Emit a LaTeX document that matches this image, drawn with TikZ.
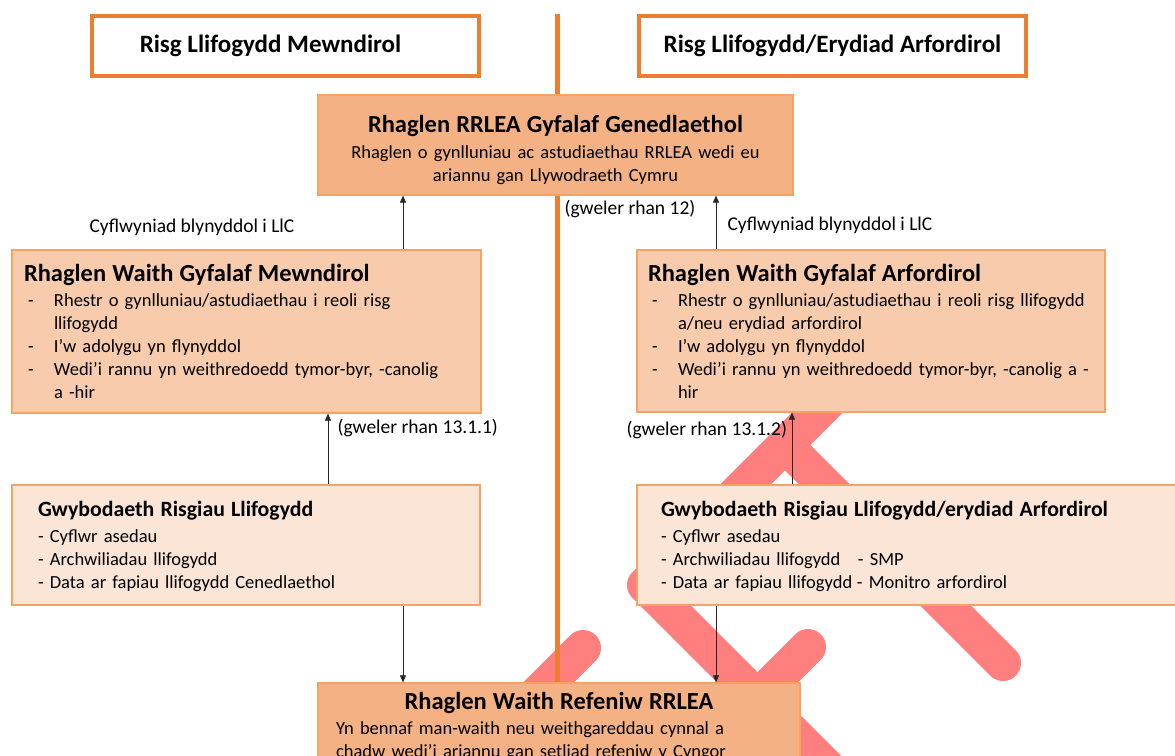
\documentclass[tikz,border=0pt]{standalone}
\usepackage{fontspec}
\setmainfont{Carlito}
\usepackage{tikz}
\usetikzlibrary{arrows.meta}

\definecolor{riskline}{HTML}{ED7D31}
\definecolor{boxedge}{HTML}{F7A262}
\definecolor{peachdark}{HTML}{F4B183}
\definecolor{peachmid}{HTML}{F8CBAD}
\definecolor{peachlight}{HTML}{FBE5D6}
\definecolor{crossmark}{HTML}{FF7F7F}

\newcommand{\bodyfont}{\fontsize{18.5}{23}\selectfont}
\newcommand{\notefont}{\fontsize{19.5}{23}\selectfont}
\newcommand{\headfont}{\fontsize{24.5}{27}\selectfont\bfseries}
\newcommand{\infohead}{\fontsize{21.8}{25}\selectfont\bfseries}
\newcommand{\dashitem}[1]{\mbox{\makebox[30pt][l]{\hspace{4pt}-}#1}}
\newcommand{\dashcont}[1]{\mbox{\hspace*{30pt}#1}}

\begin{document}
\begin{tikzpicture}[x=1pt,y=-1pt,
	topbox/.style={draw=riskline, line width=3.5pt, fill=white, minimum width=387pt, minimum height=60pt, font=\fontsize{25}{28}\selectfont\bfseries},
	bluebox/.style={draw=boxedge, line width=1.2pt, inner ysep=0pt, font=\bodyfont},
	arr/.style={-{Triangle[length=7pt,width=6pt]}, line width=0.6pt, draw=black!85}]
	
	\useasboundingbox (0,0) rectangle (1175,755);
	\clip (0,0) rectangle (1175,755);
	
	% Draw crossed marks in the background
	\draw[crossmark, line width=36pt, line cap=round, line join=round] (900,330) -- (645,585) -- (840,780);
	\draw[crossmark, line width=36pt, line cap=round] (795,455) -- (1003,663);
	\draw[crossmark, line width=36pt, line cap=round] (808,647) -- (690,765);
	\draw[crossmark, line width=36pt, line cap=round] (583,648) -- (470,761);
	
	% Draw dividing line
	\draw[riskline, line width=5pt] (557,14) -- (557,760);
	
	% Risk headings
	\node[topbox] (inlandrisk) at (285.5,46) {\hspace*{-30pt}Risg Llifogydd Mewndirol};
	\node[topbox] (coastrisk) at (832.5,46) {Risg Llifogydd/Erydiad Arfordirol};
	
	% National programme
	\node[bluebox, fill=peachdark, minimum width=475pt, minimum height=100pt, text width=455pt, inner xsep=10pt, align=center] (national) at (555.5,145)
		{{\headfont\rule{0pt}{28pt}Rhaglen RRLEA Gyfalaf Genedlaethol}\\[3pt]
		Rhaglen o gynlluniau ac astudiaethau RRLEA wedi eu\\ ariannu gan Llywodraeth Cymru};
	
	% Capital work programmes
	\node[bluebox, fill=peachmid, minimum width=469pt, minimum height=163pt, text width=445pt, inner xsep=12pt, align=left] (inlandwork) at (246.5,331.5)
		{\mbox{\headfont Rhaglen Waith Gyfalaf Mewndirol}\\[2pt]
		\dashitem{Rhestr o gynlluniau/astudiaethau i reoli risg}\\
		\dashcont{llifogydd}\\
		\dashitem{I’w adolygu yn flynyddol}\\
		\dashitem{Wedi’i rannu yn weithredoedd tymor-byr, -canolig}\\
		\dashcont{a -hir}};
	\node[bluebox, fill=peachmid, minimum width=468pt, minimum height=162pt, text width=446pt, inner xsep=11pt, align=left] (coastwork) at (871,331)
		{\mbox{\headfont Rhaglen Waith Gyfalaf Arfordirol}\\[2pt]
		\dashitem{Rhestr o gynlluniau/astudiaethau i reoli risg llifogydd}\\
		\dashcont{a/neu erydiad arfordirol}\\
		\dashitem{I’w adolygu yn flynyddol}\\
		\dashitem{Wedi’i rannu yn weithredoedd tymor-byr, -canolig a -}\\
		\dashcont{hir}};
	
	% Risk information
	\node[bluebox, fill=peachlight, minimum width=468pt, minimum height=120pt, text width=416pt, inner xsep=26pt, align=left] (inlandinfo) at (246,545)
		{\mbox{\infohead\rule{0pt}{18pt}Gwybodaeth Risgiau Llifogydd}\\[3pt]
		- Cyflwr asedau\\
		- Archwiliadau llifogydd\\
		- Data ar fapiau llifogydd Cenedlaethol};
	\node[bluebox, fill=peachlight, minimum width=553pt, minimum height=120pt, text width=505pt, inner xsep=24pt, align=left] (coastinfo) at (913.5,545)
		{\mbox{\infohead\rule{0pt}{18pt}Gwybodaeth Risgiau Llifogydd/erydiad Arfordirol}\\[3pt]
		- Cyflwr asedau\\
		\mbox{\makebox[197pt][l]{- Archwiliadau llifogydd}- SMP}\\
		\mbox{\makebox[196pt][l]{- Data ar fapiau llifogydd}- Monitro arfordirol}};
	
	% Revenue programme
	\node[bluebox, fill=peachdark, minimum width=482pt, minimum height=86pt, text width=446pt, inner xsep=18pt, align=left] (revenue) at (559,726)
		{\makebox[446pt][c]{\headfont Rhaglen Waith Refeniw RRLEA}\\[2pt]
		Yn bennaf man-waith neu weithgareddau cynnal a\\
		chadw wedi’i ariannu gan setliad refeniw y Cyngor};
	
	% Arrows
	\draw[arr] ([xshift=156.5pt]inlandwork.north) -- ([xshift=156.5pt]inlandwork.north |- national.south);
	\draw[arr] ([xshift=-155pt]coastwork.north) -- ([xshift=-155pt]coastwork.north |- national.south);
	\draw[arr] ([xshift=82pt]inlandinfo.north) -- ([xshift=82pt]inlandinfo.north |- inlandwork.south);
	\draw[arr] ([xshift=-121.5pt]coastinfo.north) -- ([xshift=-121.5pt]coastinfo.north |- coastwork.south);
	\draw[arr] ([xshift=157pt]inlandinfo.south) -- ([xshift=157pt]inlandinfo.south |- revenue.north);
	\draw[arr] ([xshift=-197.5pt]coastinfo.south) -- ([xshift=-197.5pt]coastinfo.south |- revenue.north);
	
	% Labels
	\node[anchor=west, font=\notefont] (leftsubmit) at (86,227) {Cyflwyniad blynyddol i LlC};
	\node[anchor=west, font=\notefont] (rightsubmit) at (724,225) {Cyflwyniad blynyddol i LlC};
	\node[anchor=west, font=\notefont] (seetwelve) at (561,209) {(gweler rhan 12)};
	\node[anchor=west, font=\notefont] (seeinland) at (334,428) {(gweler rhan 13.1.1)};
	\node[anchor=west, font=\notefont] (seecoast) at (623,430) {(gweler rhan 13.1.2)};
	
\end{tikzpicture}
\end{document}
